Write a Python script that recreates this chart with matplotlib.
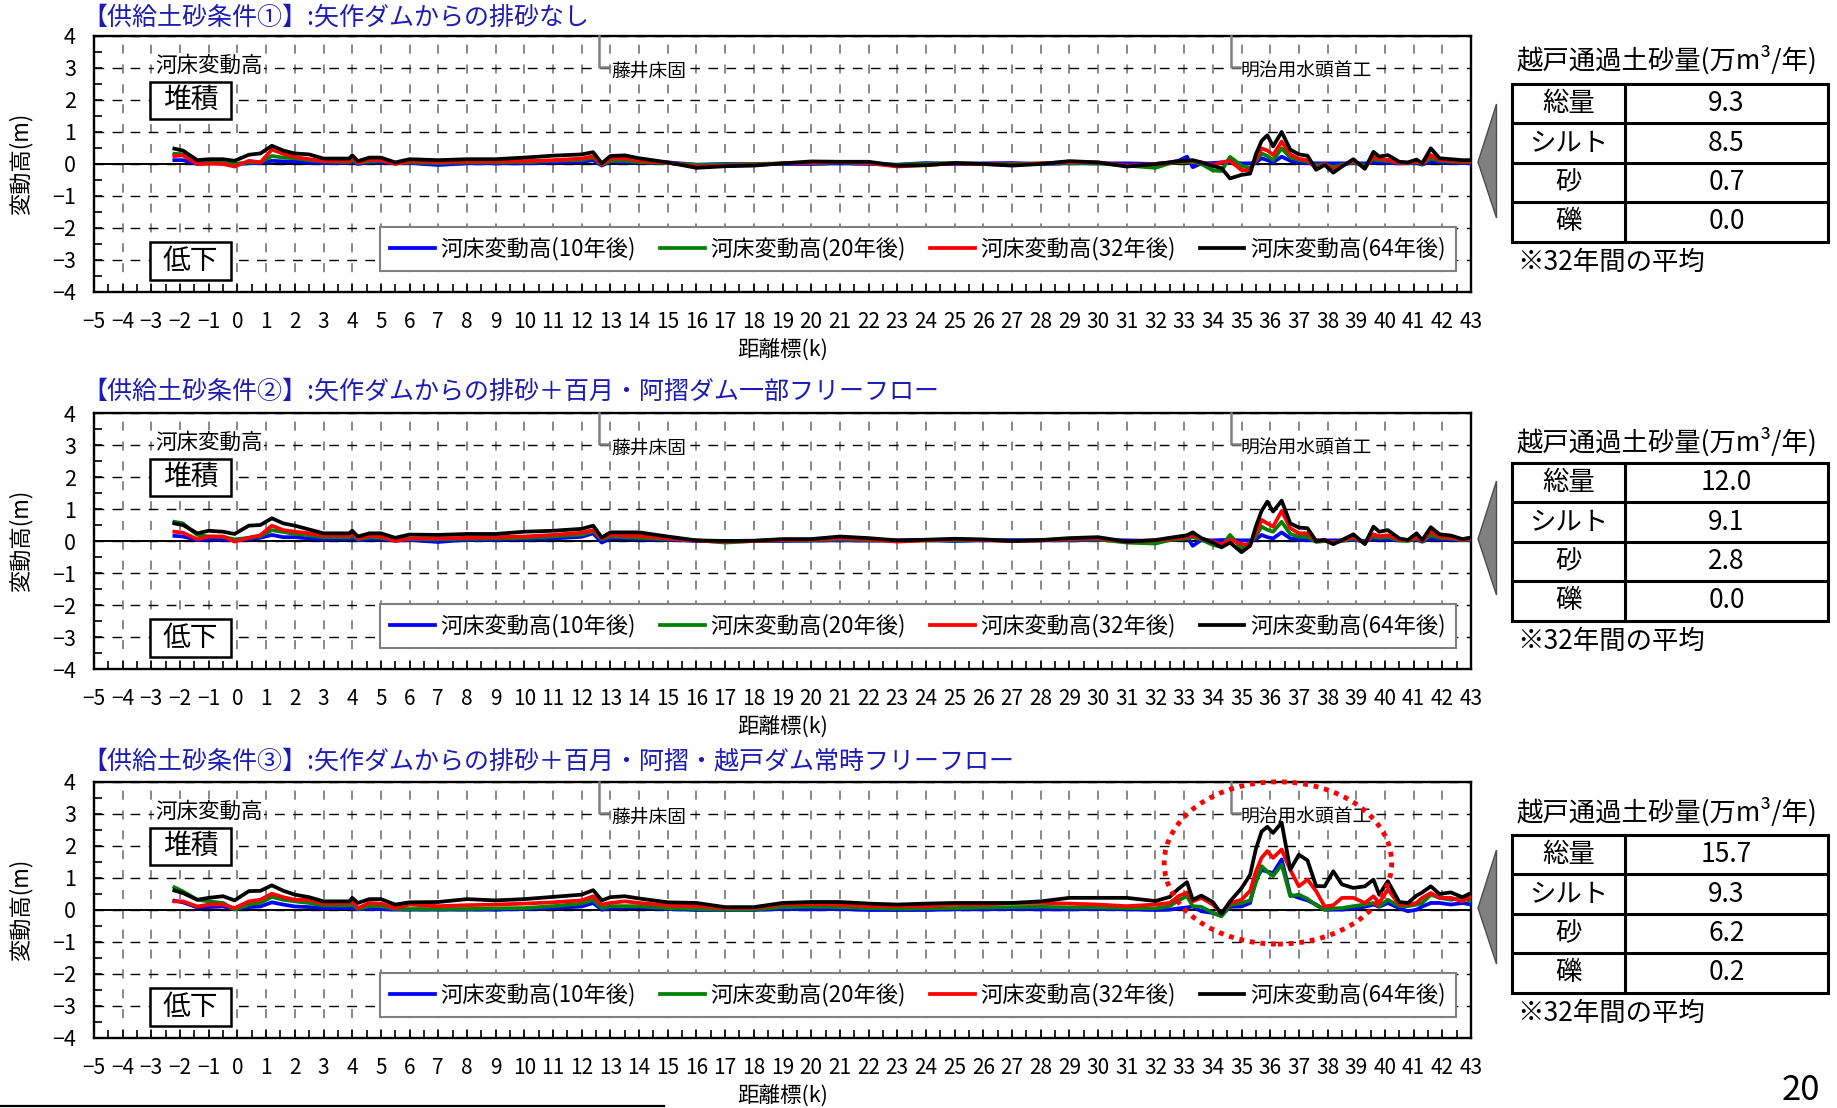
import matplotlib.pyplot as plt
from matplotlib.patches import Ellipse, Polygon, Rectangle
from matplotlib.ticker import MultipleLocator

plt.rcParams['font.family'] = ['Noto Sans CJK JP', 'DejaVu Sans']
plt.rcParams['axes.unicode_minus'] = True

# distance marker (k) shared by all series
km = [-2.2, -1.9, -1.4, -1.0, -0.5, -0.1, 0.4, 0.8, 1.2, 1.6, 2.0, 2.5, 3.0, 3.9, 4.0, 4.2, 4.6, 5.0, 5.5, 6.0,
      7, 8, 9, 10, 11, 12, 12.4, 12.7, 13.0, 13.5, 14, 15, 16, 17, 18, 19, 20, 21, 22, 23, 24, 25, 26, 27, 28, 29, 30, 31, 32,
      32.5, 32.8, 33.1, 33.3, 33.6, 34.0, 34.3, 34.6, 35.0, 35.3, 35.5, 35.7, 35.9, 36.1, 36.4, 36.7, 37.0, 37.3,
      37.6, 37.9, 38.2, 38.5, 38.9, 39.3, 39.6, 39.8, 40.1, 40.5, 40.8, 41.1, 41.3, 41.6, 41.9, 42.3, 42.7, 43.0]

# condition 1
c1_10 = [0.12, 0.12, 0.00, 0.03, 0.02, 0.00, 0.02, 0.03, 0.10, 0.08, 0.08, 0.05, 0.03, 0.04, 0.08, 0.00, 0.05, 0.05, 0.02, 0.03,
         -0.03, 0.02, 0.02, 0.02, 0.05, 0.07, 0.12, -0.05, 0.08, 0.05, 0.05, 0.05, -0.02, 0.00, 0.00, 0.00, 0.00, 0.02, 0.00, -0.02, 0.03, 0.00, 0.02, 0.03, 0.00, 0.02, 0.02, 0.02, 0.00,
         0.05, 0.10, 0.23, -0.10, 0.02, 0.03, 0.05, 0.05, 0.02, 0.02, 0.05, 0.18, 0.12, 0.05, 0.23, 0.10, 0.05, 0.03,
         0.02, 0.02, 0.02, 0.02, 0.02, 0.02, 0.05, 0.05, 0.03, 0.02, 0.02, 0.03, -0.02, 0.08, 0.05, 0.04, 0.03, 0.03]
c1_20 = [0.32, 0.30, 0.02, 0.03, 0.03, 0.00, 0.05, 0.05, 0.25, 0.20, 0.18, 0.12, 0.08, 0.06, 0.12, 0.03, 0.08, 0.10, 0.02, 0.05,
         0.03, 0.05, 0.05, 0.06, 0.10, 0.13, 0.20, -0.03, 0.10, 0.10, 0.06, 0.03, -0.03, -0.02, 0.00, 0.02, 0.03, 0.05, 0.02, -0.03, 0.01, 0.03, 0.00, 0.00, 0.02, 0.03, 0.02, -0.05, -0.12,
         0.02, 0.06, 0.05, 0.06, 0.00, -0.20, -0.22, 0.22, -0.05, -0.12, 0.10, 0.33, 0.25, 0.12, 0.49, 0.20, 0.12, 0.08,
         -0.05, 0.00, -0.10, -0.02, 0.05, -0.05, 0.15, 0.12, 0.10, 0.03, 0.02, 0.06, 0.00, 0.18, 0.10, 0.07, 0.06, 0.06]
c1_32 = [0.25, 0.27, 0.00, 0.01, 0.00, -0.08, 0.10, 0.05, 0.45, 0.32, 0.22, 0.15, 0.09, 0.09, 0.20, 0.04, 0.13, 0.12, 0.00, 0.09,
         0.06, 0.08, 0.08, 0.09, 0.12, 0.17, 0.24, -0.02, 0.17, 0.17, 0.10, 0.04, -0.08, -0.05, -0.03, 0.02, 0.04, 0.06, 0.03, -0.08, -0.03, 0.02, 0.00, -0.03, 0.02, 0.06, 0.05, -0.05, 0.00,
         0.04, 0.08, 0.08, 0.10, 0.05, -0.03, 0.05, 0.10, -0.19, -0.19, 0.15, 0.49, 0.42, 0.28, 0.70, 0.30, 0.16, 0.12,
         -0.13, 0.00, -0.18, -0.05, 0.10, -0.12, 0.23, 0.16, 0.13, 0.03, 0.04, 0.08, 0.00, 0.28, 0.12, 0.10, 0.08, 0.08]
c1_64 = [0.48, 0.42, 0.12, 0.15, 0.15, 0.10, 0.29, 0.33, 0.57, 0.42, 0.33, 0.30, 0.17, 0.17, 0.27, 0.09, 0.20, 0.20, 0.05, 0.15,
         0.12, 0.15, 0.15, 0.20, 0.26, 0.30, 0.37, 0.02, 0.25, 0.27, 0.18, 0.05, -0.12, -0.07, -0.05, 0.02, 0.08, 0.07, 0.07, -0.05, -0.04, 0.03, 0.00, -0.05, 0.00, 0.09, 0.05, -0.08, 0.00,
         0.05, 0.09, 0.10, 0.12, 0.05, -0.06, -0.13, -0.45, -0.34, -0.30, 0.30, 0.72, 0.90, 0.55, 1.00, 0.45, 0.30, 0.26,
         -0.18, -0.03, -0.27, -0.08, 0.15, -0.15, 0.38, 0.23, 0.28, 0.07, 0.05, 0.14, 0.02, 0.49, 0.18, 0.15, 0.12, 0.12]

# condition 2
c2_10 = [0.16, 0.14, 0.03, 0.05, 0.05, 0.02, 0.06, 0.10, 0.19, 0.12, 0.12, 0.08, 0.06, 0.06, 0.10, 0.02, 0.06, 0.06, 0.01, 0.03,
         -0.03, 0.04, 0.04, 0.06, 0.08, 0.13, 0.24, -0.05, 0.08, 0.08, 0.06, 0.04, 0.00, 0.00, 0.00, 0.00, 0.01, 0.02, 0.01, 0.02, 0.03, 0.00, 0.02, 0.03, 0.02, 0.02, 0.03, 0.02, 0.00,
         0.03, 0.08, 0.12, -0.15, 0.03, 0.02, 0.03, 0.03, 0.02, 0.02, 0.05, 0.19, 0.12, 0.08, 0.27, 0.08, 0.04, 0.03,
         0.02, 0.02, 0.02, 0.02, 0.03, 0.00, 0.06, 0.05, 0.04, 0.02, 0.02, 0.04, -0.02, 0.08, 0.05, 0.04, 0.02, 0.03]
c2_20 = [0.60, 0.55, 0.19, 0.14, 0.13, 0.05, 0.10, 0.15, 0.34, 0.28, 0.22, 0.18, 0.12, 0.12, 0.18, 0.05, 0.12, 0.10, 0.02, 0.06,
         0.05, 0.07, 0.08, 0.10, 0.14, 0.20, 0.30, 0.05, 0.14, 0.12, 0.10, 0.06, 0.02, -0.05, 0.00, 0.02, 0.02, 0.05, 0.03, 0.00, 0.02, 0.02, 0.03, 0.00, 0.02, 0.04, 0.05, -0.05, -0.08,
         0.03, 0.06, 0.08, 0.12, 0.04, -0.12, -0.18, 0.19, -0.23, -0.05, 0.15, 0.45, 0.35, 0.29, 0.60, 0.22, 0.13, 0.13,
         -0.03, 0.00, -0.05, 0.00, 0.08, -0.04, 0.14, 0.10, 0.12, 0.02, 0.00, 0.08, -0.02, 0.18, 0.10, 0.07, 0.03, 0.05]
c2_32 = [0.29, 0.26, 0.05, 0.14, 0.14, -0.02, 0.10, 0.18, 0.48, 0.34, 0.29, 0.24, 0.17, 0.17, 0.24, 0.08, 0.16, 0.14, 0.00, 0.08,
         0.08, 0.10, 0.12, 0.14, 0.19, 0.26, 0.34, 0.08, 0.19, 0.17, 0.16, 0.08, 0.01, -0.02, 0.00, 0.03, 0.04, 0.08, 0.05, -0.02, 0.02, 0.05, 0.03, 0.00, 0.02, 0.06, 0.08, -0.02, 0.02,
         0.06, 0.10, 0.12, 0.18, 0.07, -0.02, -0.10, 0.05, -0.10, -0.12, 0.25, 0.66, 0.55, 0.45, 0.94, 0.40, 0.24, 0.24,
         0.00, 0.02, -0.06, 0.02, 0.12, -0.06, 0.21, 0.15, 0.18, 0.04, 0.02, 0.12, 0.00, 0.29, 0.14, 0.10, 0.04, 0.08]
c2_64 = [0.55, 0.50, 0.24, 0.32, 0.29, 0.22, 0.48, 0.50, 0.71, 0.55, 0.48, 0.36, 0.24, 0.24, 0.32, 0.14, 0.24, 0.24, 0.10, 0.20,
         0.19, 0.22, 0.22, 0.29, 0.32, 0.38, 0.48, 0.11, 0.27, 0.27, 0.27, 0.14, 0.02, 0.00, 0.01, 0.06, 0.06, 0.14, 0.09, 0.02, 0.04, 0.07, 0.05, 0.00, 0.03, 0.09, 0.12, -0.02, 0.03,
         0.10, 0.14, 0.18, 0.27, 0.09, -0.05, -0.20, -0.05, -0.35, -0.15, 0.45, 0.94, 1.23, 0.92, 1.26, 0.55, 0.42, 0.40,
         0.00, 0.03, -0.10, 0.03, 0.21, -0.10, 0.45, 0.29, 0.34, 0.08, 0.03, 0.24, 0.03, 0.43, 0.21, 0.17, 0.06, 0.11]

# condition 3
c3_10 = [0.29, 0.24, 0.08, 0.09, 0.11, 0.03, 0.09, 0.11, 0.24, 0.17, 0.11, 0.09, 0.06, 0.06, 0.06, 0.02, 0.04, 0.03, 0.01, 0.01,
         0.01, 0.01, 0.01, 0.03, 0.06, 0.11, 0.22, 0.01, 0.06, 0.08, 0.08, 0.03, 0.00, 0.00, 0.00, 0.03, 0.02, 0.03, 0.00, 0.00, 0.00, 0.02, 0.02, 0.03, 0.02, 0.02, 0.03, 0.02, 0.00,
         0.01, 0.05, 0.08, 0.11, -0.04, -0.09, -0.18, 0.10, 0.11, 0.22, 0.95, 1.25, 1.20, 1.15, 1.58, 0.48, 0.38, 0.30,
         0.17, 0.01, 0.01, 0.01, 0.06, 0.10, 0.17, 0.10, 0.22, 0.06, -0.04, 0.01, 0.11, 0.22, 0.22, 0.17, 0.22, 0.17]
c3_20 = [0.71, 0.58, 0.32, 0.27, 0.22, 0.01, 0.17, 0.22, 0.41, 0.32, 0.27, 0.22, 0.14, 0.14, 0.17, 0.03, 0.12, 0.12, 0.03, 0.03,
         0.03, 0.03, 0.05, 0.06, 0.12, 0.20, 0.32, 0.06, 0.12, 0.12, 0.12, 0.06, 0.03, 0.01, 0.01, 0.09, 0.10, 0.09, 0.06, 0.04, 0.05, 0.06, 0.08, 0.09, 0.10, 0.08, 0.08, 0.06, 0.05,
         0.12, 0.30, 0.43, 0.12, 0.10, -0.09, -0.20, 0.15, 0.22, 0.30, 0.85, 1.37, 1.20, 1.06, 1.42, 0.43, 0.48, 0.35,
         0.15, 0.01, 0.05, 0.06, 0.12, 0.17, 0.22, 0.12, 0.32, 0.12, 0.12, 0.17, 0.22, 0.48, 0.38, 0.32, 0.38, 0.27]
c3_32 = [0.27, 0.27, 0.11, 0.17, 0.17, 0.06, 0.27, 0.32, 0.51, 0.40, 0.32, 0.32, 0.20, 0.22, 0.27, 0.06, 0.22, 0.20, 0.06, 0.17,
         0.12, 0.15, 0.17, 0.20, 0.24, 0.30, 0.43, 0.17, 0.22, 0.27, 0.22, 0.14, 0.12, 0.06, 0.06, 0.17, 0.19, 0.17, 0.12, 0.12, 0.12, 0.17, 0.17, 0.22, 0.22, 0.20, 0.17, 0.12, 0.17,
         0.22, 0.43, 0.55, 0.27, 0.38, 0.17, -0.10, 0.22, 0.32, 0.60, 1.20, 1.63, 1.84, 1.63, 1.89, 1.25, 0.74, 0.95,
         0.59, 0.11, 0.15, 0.38, 0.38, 0.22, 0.43, 0.22, 0.64, 0.17, 0.17, 0.22, 0.38, 0.53, 0.38, 0.38, 0.27, 0.43]
c3_64 = [0.61, 0.53, 0.32, 0.38, 0.43, 0.30, 0.59, 0.60, 0.77, 0.60, 0.48, 0.40, 0.27, 0.27, 0.38, 0.22, 0.34, 0.34, 0.17, 0.24,
         0.25, 0.34, 0.30, 0.34, 0.41, 0.48, 0.62, 0.30, 0.40, 0.43, 0.36, 0.24, 0.22, 0.09, 0.09, 0.22, 0.25, 0.25, 0.20, 0.17, 0.20, 0.22, 0.22, 0.22, 0.27, 0.38, 0.38, 0.38, 0.28,
         0.41, 0.66, 0.87, 0.32, 0.45, 0.25, -0.12, 0.27, 0.68, 1.10, 1.90, 2.45, 2.60, 2.41, 2.73, 1.26, 1.73, 1.55,
         0.75, 0.74, 1.21, 0.80, 0.69, 0.74, 0.95, 0.48, 0.90, 0.25, 0.22, 0.45, 0.55, 0.74, 0.50, 0.55, 0.40, 0.53]

titles = ['【供給土砂条件①】:矢作ダムからの排砂なし',
          '【供給土砂条件②】:矢作ダムからの排砂＋百月・阿摺ダム一部フリーフロー',
          '【供給土砂条件③】:矢作ダムからの排砂＋百月・阿摺・越戸ダム常時フリーフロー']
series_labels = ['河床変動高(10年後)', '河床変動高(20年後)', '河床変動高(32年後)', '河床変動高(64年後)']
series_colors = ['#0000ff', '#008000', '#ff0000', '#000000']
conditions = [[c1_10, c1_20, c1_32, c1_64],
              [c2_10, c2_20, c2_32, c2_64],
              [c3_10, c3_20, c3_32, c3_64]]

table_rows = ['総量', 'シルト', '砂', '礫']
table_vals = [[9.3, 8.5, 0.7, 0.0],
              [12.0, 9.1, 2.8, 0.0],
              [15.7, 9.3, 6.2, 0.2]]

# layout in pixels
W, H = 1837, 1108
ax_left, ax_right, ax_h = 94, 1471, 256
chart_top = [36, 413, 782]
title_y = [18, 392, 761]
hdr_y = [60, 442, 812]
tbl_top = [84, 463, 835]
row_h = 39.4

fig = plt.figure(figsize=(W / 100, H / 100), dpi=100)

ov = fig.add_axes([0, 0, 1, 1])
ov.set_xlim(0, W)
ov.set_ylim(H, 0)
ov.axis('off')

for i in range(3):
    top = chart_top[i]
    ax = fig.add_axes([ax_left / W, 1 - (top + ax_h) / H, (ax_right - ax_left) / W, ax_h / H])
    for ys, col, lab in zip(conditions[i], series_colors, series_labels):
        ax.plot(km, ys, color=col, lw=2.7, label=lab, zorder=3)

    ax.set_xlim(-5, 43)
    ax.set_ylim(-4, 4)
    ax.set_xticks(range(-5, 44))
    ax.set_yticks(range(-4, 5))
    ax.xaxis.set_minor_locator(MultipleLocator(0.5))
    ax.yaxis.set_minor_locator(MultipleLocator(0.5))
    ax.tick_params(which='both', direction='in', length=6, width=1.2)
    ax.tick_params(axis='x', which='major', pad=14, labelsize=15)
    ax.tick_params(axis='y', which='major', pad=13, labelsize=15.5)
    ax.set_axisbelow(True)
    ax.grid(axis='x', which='major', color='#7f7f7f', lw=1.3, linestyle=(0, (5, 6)))
    ax.grid(axis='y', which='major', color='black', lw=1.0, linestyle=(0, (7, 6)))
    ax.axhline(0, color='black', lw=1.4, zorder=2)
    for sp in ax.spines.values():
        sp.set_linewidth(1.7)

    ax.text(-2.87, 3.08, '河床変動高', fontsize=15.5, va='center', ha='left', zorder=2.5,
            bbox=dict(fc='white', ec='none', pad=1))
    ax.add_patch(Rectangle((-3.05, 1.41), 2.83, 1.16, fc='white', ec='black', lw=1.8, zorder=4))
    ax.text(-1.64, 1.99, '堆積', fontsize=20, ha='center', va='center', zorder=5)
    ax.add_patch(Rectangle((-3.05, -3.63), 2.83, 1.18, fc='white', ec='black', lw=1.8, zorder=4))
    ax.text(-1.64, -3.04, '低下', fontsize=20, ha='center', va='center', zorder=5)

    ax.plot([12.6, 12.6, 12.95], [4, 3.03, 3.03], color='#808080', lw=1.8, zorder=2.6, clip_on=False)
    ax.text(13.02, 2.91, '藤井床固', fontsize=13.5, va='center', zorder=2.5,
            bbox=dict(fc='white', ec='none', pad=0.3))
    ax.plot([34.63, 34.63, 34.95], [4, 3.03, 3.03], color='#808080', lw=1.8, zorder=2.6, clip_on=False)
    ax.text(34.98, 2.91, '明治用水頭首工', fontsize=13.5, va='center', zorder=2.5,
            bbox=dict(fc='white', ec='none', pad=0.3))

    leg = ax.legend(loc='center', bbox_to_anchor=(4.98, -3.48, 37.48, 1.66), bbox_transform=ax.transData,
                    mode='expand', ncol=4, fontsize=16, fancybox=False, edgecolor='#808080', framealpha=1,
                    handlelength=2.0, handletextpad=0.25, borderaxespad=0, columnspacing=0.5, borderpad=0.45)
    leg.get_frame().set_linewidth(1.5)
    leg.set_zorder(6)

    if i == 2:
        ax.add_patch(Ellipse((36.27, 1.47), 7.93, 5.07, fill=False, ec='red', lw=3.5,
                             linestyle=(0, (1, 1.2)), zorder=7, clip_on=False))

    # labels
    ov.text(82, title_y[i], titles[i], color='#1c1cb4', fontsize=18, va='center', ha='left')
    ov.text(21, top + ax_h / 2, '変動高(m)', fontsize=16, rotation=90, ha='center', va='center')
    ov.text((ax_left + ax_right) / 2, top + ax_h + 58, '距離標(k)', fontsize=15.5, ha='center', va='center')

    # side table
    x0, x1, x2 = 1512, 1625, 1828
    t0 = tbl_top[i]
    ov.text(1516, hdr_y[i], '越戸通過土砂量(万m³/年)', fontsize=19, ha='left', va='center')
    ov.add_patch(Rectangle((x0, t0), x2 - x0, 4 * row_h, fc='white', ec='black', lw=2.2))
    ov.plot([x1, x1], [t0, t0 + 4 * row_h], color='black', lw=2.2)
    for r in range(4):
        if r > 0:
            ov.plot([x0, x2], [t0 + r * row_h] * 2, color='black', lw=2.2)
        yc = t0 + (r + 0.5) * row_h
        ov.text((x0 + x1) / 2, yc, table_rows[r], fontsize=19, ha='center', va='center')
        ov.text((x1 + x2) / 2, yc, f'{table_vals[i][r]:.1f}', fontsize=19, ha='center', va='center')
    ov.text(1517, t0 + 4 * row_h + 21, '※32年間の平均', fontsize=19, ha='left', va='center')
    ov.add_patch(Polygon([(1478, top + 126), (1496.5, top + 68), (1496.5, top + 182)],
                         closed=True, fc='#808080', ec='#4d4d4d', lw=1))

ov.text(1801, 1090, '20', fontsize=25, ha='center', va='center')
ov.plot([0, 664], [1106, 1106], color='black', lw=1.6)

fig.savefig('out.png', dpi=100)
